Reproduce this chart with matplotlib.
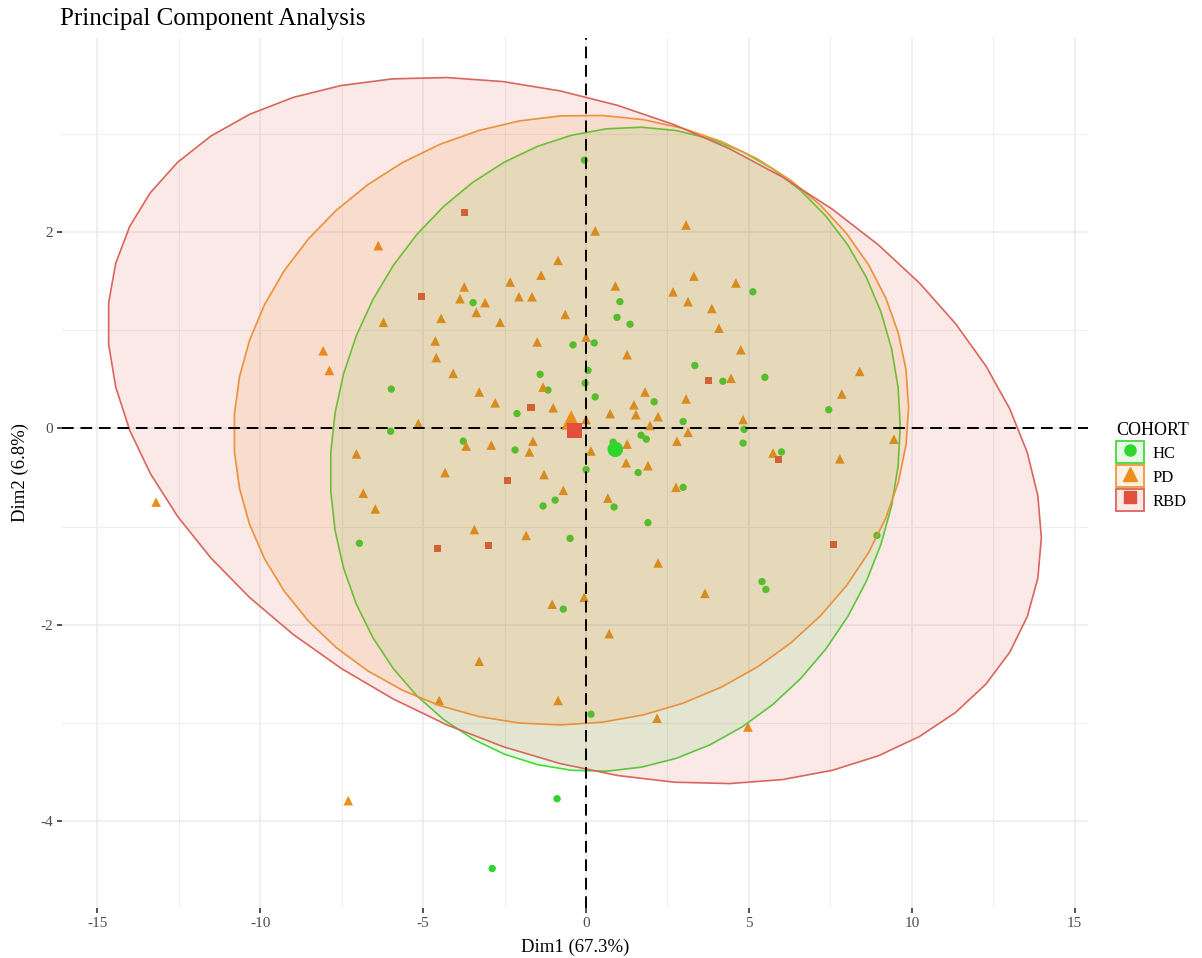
import numpy as np
import matplotlib
matplotlib.use("Agg")
import matplotlib.pyplot as plt
from matplotlib.patches import Polygon, Patch
from matplotlib.lines import Line2D
from matplotlib.colors import to_rgba

plt.rcParams['font.family'] = ['Liberation Serif', 'DejaVu Serif']

# ---------------- data ----------------
title = "Principal Component Analysis"
x_label = "Dim1 (67.3%)"
y_label = "Dim2 (6.8%)"
legend_title = "COHORT"
groups = ["HC", "PD", "RBD"]

hc_x = [-0.05, -3.47, -0.40, 0.06, -0.03, -1.41, -5.98, -1.17, -2.12, -6.00,
        -3.77, -2.18, 0.00, -0.95, -1.32, -6.96, -0.49, -0.70, 0.15, -0.89,
        -2.88, 5.12, 1.04, 0.95, 1.35, 0.25, 3.34, 4.20, 5.49, 0.28,
        2.09, 7.45, 2.98, 4.85, 1.69, 1.85, 4.82, 0.83, 6.00, 1.60,
        2.98, 0.86, 1.90, 8.93, 5.40, 5.52]
hc_y = [2.73, 1.28, 0.85, 0.59, 0.46, 0.55, 0.40, 0.39, 0.15, -0.03,
        -0.13, -0.22, -0.42, -0.73, -0.79, -1.17, -1.12, -1.84, -2.91, -3.77,
        -4.48, 1.39, 1.29, 1.13, 1.06, 0.87, 0.64, 0.48, 0.52, 0.32,
        0.27, 0.19, 0.07, -0.01, -0.07, -0.11, -0.15, -0.14, -0.24, -0.45,
        -0.60, -0.80, -0.96, -1.09, -1.56, -1.64]

pd_x = [-6.38, -0.86, -1.38, -2.33, -3.74, -3.87, -2.06, -1.66, -3.10, -3.37,
        -4.45, -6.22, -2.64, -0.64, -4.63, -1.50, 0.00, -8.07, -4.60, -7.88,
        -4.08, -3.28, -1.32, -2.79, -1.01, -5.15, -3.68, -2.91, -1.63,
        -1.74, -7.05, -4.33, -1.29, 0.15, -6.84, -6.47, -0.70, -13.20, -3.43,
        -1.84, -1.04, -0.06, -3.28, -4.51, -0.86, -7.30,
        0.28, 3.07, 3.31, 0.90, 4.60, 2.67, 3.13, 3.86, 4.08, 4.75,
        1.26, 8.40, 4.45, 7.85, 1.81, 3.07, 1.47, 0.74, 1.53, 2.21,
        4.82, 1.96, 3.13, 0.00, 2.79, 9.45, 1.26,
        5.74, 7.79, 1.23, 1.90, 2.76, 0.67, 2.21, 3.65, 0.71, 2.18, 4.97]
pd_y = [1.86, 1.71, 1.56, 1.49, 1.44, 1.32, 1.34, 1.34, 1.28, 1.18,
        1.12, 1.08, 1.08, 1.16, 0.89, 0.88, 0.93, 0.79, 0.72, 0.59,
        0.56, 0.37, 0.42, 0.26, 0.21, 0.05, -0.18, -0.17, -0.13,
        -0.24, -0.26, -0.45, -0.47, -0.23, -0.66, -0.82, -0.63, -0.75, -1.03,
        -1.09, -1.79, -1.72, -2.37, -2.77, -2.77, -3.79,
        2.01, 2.07, 1.55, 1.45, 1.48, 1.39, 1.29, 1.22, 1.02, 0.80,
        0.75, 0.58, 0.51, 0.35, 0.37, 0.30, 0.24, 0.15, 0.14, 0.12,
        0.09, 0.03, -0.04, 0.09, -0.13, -0.11, -0.16,
        -0.25, -0.31, -0.35, -0.38, -0.60, -0.71, -1.37, -1.68, -2.09, -2.95, -3.04]

rbd_x = [-3.74, -5.06, -1.69, -2.42, -4.57, -3.00, 3.77, 5.92, 7.61]
rbd_y = [2.20, 1.34, 0.21, -0.53, -1.22, -1.19, 0.49, -0.32, -1.18]

x_ticks = [-15, -10, -5, 0, 5, 10, 15]
y_ticks = [-4, -2, 0, 2]

# ---------------- styling ----------------
colors = {"HC": "#2ED62E", "PD": "#EE8E1A", "RBD": "#E0503C"}
line_colors = {"HC": "#4CD63C", "PD": "#EC9A3A", "RBD": "#D9665C"}
markers = {"HC": "o", "PD": "^", "RBD": "s"}
point_sizes = {"HC": 28, "PD": 48, "RBD": 26}
mean_sizes = {"HC": 125, "PD": 200, "RBD": 115}
fill_alpha = 0.12

data = {"HC": (hc_x, hc_y), "PD": (pd_x, pd_y), "RBD": (rbd_x, rbd_y)}


def norm_ellipse(x, y, level=0.95, segments=51):
    """Same construction as ggplot2::stat_ellipse(type = 'norm')."""
    pts = np.column_stack([x, y])
    n = len(pts)
    center = pts.mean(axis=0)
    cov = np.cov(pts, rowvar=False)
    chol = np.linalg.cholesky(cov).T
    dfd = n - 1
    qf = (dfd / 2.0) * ((1 - level) ** (-2.0 / dfd) - 1)  # F(2, dfd) quantile
    radius = np.sqrt(2 * qf)
    ang = np.arange(segments + 1) * 2 * np.pi / segments
    circ = np.column_stack([np.cos(ang), np.sin(ang)])
    return center + radius * circ @ chol


fig = plt.figure(figsize=(12.02, 9.58), dpi=100)
ax = fig.add_axes([62 / 1202, 1 - 908 / 958, (1088 - 62) / 1202, (908 - 38) / 958])

all_x, all_y = [], []
ellipses = {}
for g in groups:
    x, y = data[g]
    e = norm_ellipse(x, y)
    ellipses[g] = e
    all_x += list(x) + list(e[:, 0])
    all_y += list(y) + list(e[:, 1])

# points (under the translucent ellipses, like ggplot layer order)
for g in groups:
    x, y = data[g]
    ax.scatter(x, y, s=point_sizes[g], marker=markers[g], color=colors[g],
               edgecolors='none', zorder=2)

for g in groups:
    e = ellipses[g]
    ax.add_patch(Polygon(e, closed=True, facecolor=to_rgba(colors[g], fill_alpha),
                         edgecolor=line_colors[g], linewidth=1.2, zorder=3))

ax.axhline(0, color='black', linestyle=(0, (6, 3.5)), linewidth=1.4, zorder=4)
ax.axvline(0, color='black', linestyle=(0, (6, 3.5)), linewidth=1.4, zorder=4)

for g in groups:
    x, y = data[g]
    ax.scatter([np.mean(x)], [np.mean(y)], s=mean_sizes[g], marker=markers[g],
               color=colors[g], edgecolors='none', zorder=5)

ax.set_xticks(x_ticks)
ax.set_xticklabels([f"{t}" for t in x_ticks])
ax.set_yticks(y_ticks)
ax.set_yticklabels([f"{t}" for t in y_ticks])
ax.set_xticks([t + 2.5 for t in x_ticks[:-1]] + [-17.5], minor=True)
ax.set_yticks([-5, -3, -1, 1, 3], minor=True)

# limits with ggplot's 5% expansion (set after the ticks)
xmin, xmax = min(all_x), max(all_x)
ymin, ymax = min(all_y), max(all_y)
dx, dy = xmax - xmin, ymax - ymin
ax.set_xlim(xmin - 0.05 * dx, xmax + 0.05 * dx)
ax.set_ylim(ymin - 0.05 * dy, ymax + 0.05 * dy)

ax.grid(True, which='major', color='#EBEBEB', linewidth=1.1, zorder=0)
ax.grid(True, which='minor', color='#EFEFEF', linewidth=0.8, zorder=0)
ax.set_axisbelow(True)
ax.tick_params(which='major', length=3.5, width=1.2, color='#333333',
               labelsize=11, labelcolor='#4D4D4D', pad=3)
ax.tick_params(which='minor', length=0)
for sp in ax.spines.values():
    sp.set_visible(False)

ax.set_xlabel(x_label, fontsize=13.5, labelpad=6)
ax.set_ylabel(y_label, fontsize=13.5, labelpad=8)
fig.text(60 / 1202, 1 - 19 / 958, title, fontsize=18, ha='left', va='center')

handles = []
for g in groups:
    handles.append((Patch(facecolor=to_rgba(colors[g], fill_alpha), edgecolor=line_colors[g], linewidth=1.3),
                    Line2D([], [], marker=markers[g], color=colors[g], linestyle='',
                           markersize=8 if g != "PD" else 9.5)))
leg = fig.legend(handles, groups, title=legend_title, loc='upper left',
                 bbox_to_anchor=(1108 / 1202, 1 - 414 / 958), frameon=False,
                 fontsize=12, title_fontsize=13, handlelength=1.65, handleheight=1.65,
                 labelspacing=0.12, handletextpad=0.55, borderpad=0,
                 alignment='left')

fig.savefig("out.png", dpi=100)
